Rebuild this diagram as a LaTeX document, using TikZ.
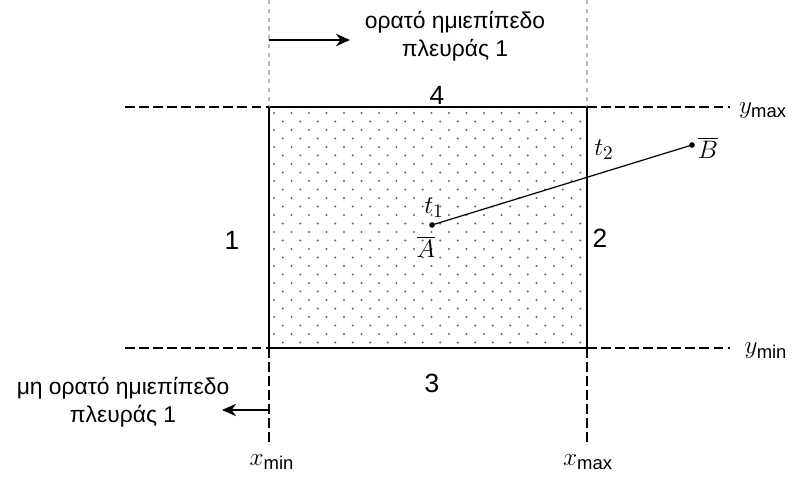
\documentclass[tikz,border=0pt]{standalone}
\usepackage{fontspec}
\setmainfont{Liberation Sans}
\usetikzlibrary{arrows.meta}
\tikzset{
  edge/.style={line width=1.5pt},
  guide/.style={line width=1.3pt, dash pattern=on 5.5pt off 2.5pt},
  faint/.style={gray!55, line width=1.3pt, dash pattern=on 2.5pt off 2.5pt},
  seg/.style={line width=0.7pt},
  lbl/.style={font=\fontsize{15}{18}\selectfont, inner sep=0pt},
  note/.style={align=center, font=\fontsize{13}{16}\selectfont, inner sep=0pt},
  pointer/.style={line width=1pt, -{Stealth[length=8pt, width=7pt]}},
}
\begin{document}
\begin{tikzpicture}[x=0.02cm, y=-0.02cm]
  \useasboundingbox (0,0) rectangle (793,482);
  \def\xl{269}
  \def\xr{587}
  \def\yt{107}
  \def\yb{348}
  % dotted window
  \foreach \row in {0,...,27} {
    \pgfmathsetmacro\yy{\yt+6+\row*8.5}
    \pgfmathsetmacro\off{mod(\row,2)*8.75}
    \foreach \col in {0,...,17}
      \fill[black!60] (\xl+5+\off+\col*17.5,\yy) circle (0.65pt);
  }
  \coordinate (ul) at (\xl,\yt);
  \coordinate (ur) at (\xr,\yt);
  \coordinate (ll) at (\xl,\yb);
  \coordinate (lr) at (\xr,\yb);
  \draw[edge] (ul) rectangle (lr);
  % guide lines
  \draw[faint] (\xl,0) -- (ul);
  \draw[faint] (\xr,0) -- (ur);
  \draw[guide] (125,\yt) -- (ul);
  \draw[guide] (ur) -- (730,\yt);
  \draw[guide] (125,\yb) -- (ll);
  \draw[guide] (lr) -- (730,\yb);
  \draw[guide] (ll) -- (\xl,443);
  \draw[guide] (lr) -- (\xr,443);
  % side numbers
  \node[lbl] (s4) at (437,95) {4};
  \node[lbl] (s1) at (232,240) {1};
  \node[lbl] (s2) at (600,238) {2};
  \node[lbl] (s3) at (432,383) {3};
  % bounds
  \node[lbl] (ymax) at (763,111) {$y_{\max}$};
  \node[lbl] (ymin) at (766,351) {$y_{\min}$};
  \node[lbl] (xmin) at (272,462) {$x_{\min}$};
  \node[lbl] (xmax) at (588,462) {$x_{\max}$};
  % segment
  \coordinate (A) at (432,225);
  \coordinate (B) at (692,145);
  \draw[seg] (A) -- (B);
  \fill (A) circle (1.6pt);
  \fill (B) circle (1.6pt);
  \node[lbl] (t1) at (434,208) {$t_1$};
  \node[lbl] (t2) at (604,150) {$t_2$};
  \node[lbl] (Abar) at (426,247) {$\overline{A}$};
  \node[lbl] (Bbar) at (708,148) {$\overline{B}$};
  % half planes of side 1
  \coordinate (vis0) at (\xl,40);
  \coordinate (vis1) at (350,40);
  \draw[pointer] (vis0) -- (vis1);
  \node[note] (vis) at (455,36) {ορατό ημιεπίπεδο\\πλευράς 1};
  \coordinate (inv0) at (\xl,410);
  \coordinate (inv1) at (222,410);
  \draw[pointer] (inv0) -- (inv1);
  \node[note] (inv) at (123,402) {μη ορατό ημιεπίπεδο\\πλευράς 1};
\end{tikzpicture}
\end{document}
